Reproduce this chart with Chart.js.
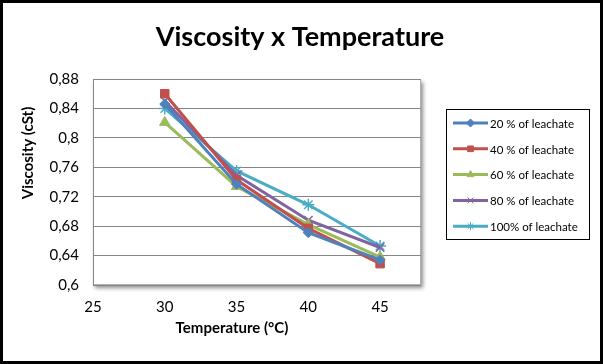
<!DOCTYPE html>
<html><head><meta charset="utf-8">
<script src="https://cdn.jsdelivr.net/npm/chart.js@4.4.0/dist/chart.umd.min.js"></script>
<style>html,body{margin:0;padding:0;background:#fff}#wrap{width:603px;height:364px;position:relative}canvas{display:block}</style>
</head><body><div id="wrap"><canvas id="c" width="603" height="364"></canvas></div>
<script>
// ---- data ----
const temperatures = [30, 35, 40, 45];
const seriesNames = ['20 % of leachate', '40 % of leachate', '60 % of leachate', '80 % of leachate', '100% of leachate'];
const visc20  = [0.846, 0.737, 0.671, 0.634];
const visc40  = [0.860, 0.743, 0.677, 0.629];
const visc60  = [0.821, 0.734, 0.682, 0.638];
const visc80  = [0.850, 0.749, 0.688, 0.651];
const visc100 = [0.840, 0.755, 0.709, 0.653];
const xTickValues = [25, 30, 35, 40, 45];
const yTickValues = [0.6, 0.64, 0.68, 0.72, 0.76, 0.8, 0.84, 0.88];
const chartTitle = 'Viscosity x Temperature';
const xTitle = 'Temperature (°C)';
const yTitle = 'Viscosity (cSt)';

// ---- styles ----
const colors = ['#4F81BD', '#C0504D', '#9BBB59', '#8064A2', '#4BACC6'];
const styles = ['rectRot', 'rect', 'triangle', 'crossRot', 'star'];
const radii = [5, 6, 6, 6, 6];
const allSeries = [visc20, visc40, visc60, visc80, visc100];
const FONT = 'Lato, "Open Sans", sans-serif';

const datasets = allSeries.map((vals, i) => ({
  label: seriesNames[i],
  data: temperatures.map((t, j) => ({x: t, y: vals[j]})),
  borderColor: colors[i],
  backgroundColor: colors[i],
  borderWidth: 3,
  pointStyle: styles[i],
  pointRadius: radii[i],
  pointBackgroundColor: colors[i],
  pointBorderColor: colors[i],
  pointBorderWidth: (styles[i] === 'crossRot' || styles[i] === 'star') ? 1.5 : 1,
  showLine: true,
  tension: 0
}));

const decor = {
  id: 'decor',
  beforeDraw(chart) {
    const ctx = chart.ctx, a = chart.chartArea;
    ctx.save();
    ctx.fillStyle = '#fff';
    ctx.fillRect(0, 0, chart.width, chart.height);
    ctx.shadowColor = 'rgba(0,0,0,0.45)';
    ctx.shadowBlur = 4;
    ctx.shadowOffsetX = 2;
    ctx.shadowOffsetY = 3;
    ctx.fillRect(a.left, a.top, a.right - a.left, a.bottom - a.top);
    ctx.restore();
    ctx.save();
    ctx.strokeStyle = '#b0b0b0';
    ctx.lineWidth = 1;
    ctx.strokeRect(a.left + 0.5, a.top + 0.5, a.right - a.left - 1, a.bottom - a.top - 1);
    ctx.restore();
  },
  afterDraw(chart) {
    const ctx = chart.ctx;
    ctx.save();
    // outer border
    ctx.strokeStyle = '#000';
    ctx.lineWidth = 3;
    ctx.strokeRect(1.5, 1.5, chart.width - 3, chart.height - 3);
    // title
    ctx.fillStyle = '#000';
    ctx.textAlign = 'center';
    ctx.textBaseline = 'middle';
    ctx.font = 'bold 27px ' + FONT;
    ctx.fillText(chartTitle, 300, 37);
    // x title
    ctx.font = 'bold 15px ' + FONT;
    ctx.fillText(xTitle, 232, 328);
    // y title
    ctx.save();
    ctx.translate(28, 153);
    ctx.rotate(-Math.PI / 2);
    ctx.fillText(yTitle, 0, 0);
    ctx.restore();
    // legend
    ctx.strokeStyle = '#000';
    ctx.lineWidth = 1;
    ctx.strokeRect(446.5, 109.5, 143, 130);
    ctx.font = '11.5px ' + FONT;
    ctx.textAlign = 'left';
    chart.data.datasets.forEach((ds, i) => {
      const y = 123 + i * 25.8;
      ctx.strokeStyle = ds.borderColor;
      ctx.lineWidth = 3;
      ctx.beginPath();
      ctx.moveTo(453, y);
      ctx.lineTo(488, y);
      ctx.stroke();
      ctx.fillStyle = ds.borderColor;
      ctx.strokeStyle = ds.borderColor;
      ctx.lineWidth = 1;
      Chart.helpers.drawPoint(ctx, {pointStyle: ds.pointStyle, radius: 4, rotation: 0, borderWidth: 1}, 470.5, y);
      ctx.fillStyle = '#000';
      ctx.fillText(ds.label, 490, y + 1);
    });
    ctx.restore();
  }
};

new Chart(document.getElementById('c'), {
  type: 'scatter',
  data: { datasets },
  options: {
    responsive: false,
    animation: false,
    devicePixelRatio: 1,
    layout: { padding: { left: 0, right: 182, top: 79, bottom: 29 } },
    plugins: { legend: { display: false }, title: { display: false }, tooltip: { enabled: false } },
    scales: {
      x: {
        type: 'linear', min: 25, max: 47.85,
        afterBuildTicks: s => { s.ticks = xTickValues.map(v => ({value: v})); },
        afterFit: s => { s.height = 50; },
        grid: { display: false, drawTicks: false },
        border: { display: false },
        ticks: { color: '#000', font: { family: FONT, size: 15 }, padding: 13, maxRotation: 0 }
      },
      y: {
        type: 'linear', min: 0.6, max: 0.88,
        afterBuildTicks: s => { s.ticks = yTickValues.map(v => ({value: v})); },
        afterFit: s => { s.width = 93; },
        grid: { color: '#868686', lineWidth: 1, drawTicks: false },
        border: { display: true, color: '#868686' },
        ticks: { color: '#000', font: { family: FONT, size: 15 }, padding: 14,
          callback: v => String(Math.round(v * 100) / 100).replace('.', ',') }
      }
    }
  },
  plugins: [decor]
});
</script></body></html>
